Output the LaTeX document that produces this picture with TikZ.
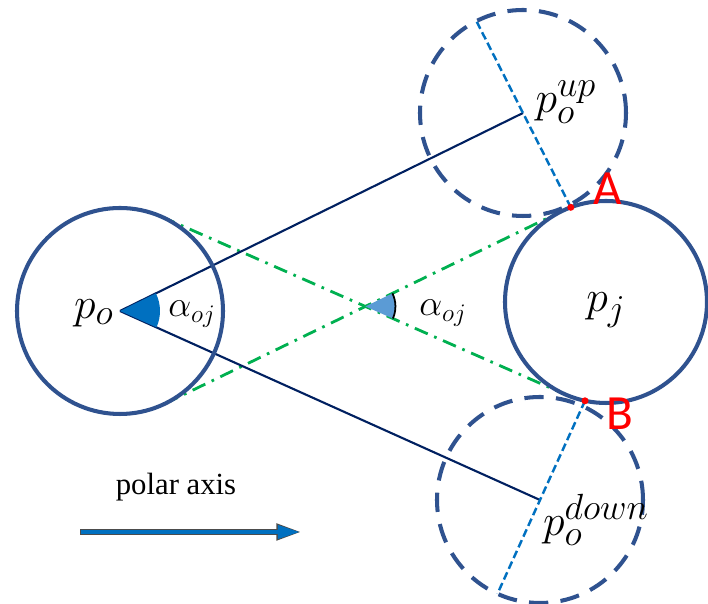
\documentclass[tikz,border=0pt]{standalone}
\usepackage{fontspec}
\newfontfamily\pointfont{Carlito}
\newfontfamily\axisfont{Liberation Serif}
\usetikzlibrary{calc,arrows.meta}
\definecolor{circblue}{RGB}{47,82,143}
\definecolor{navyline}{RGB}{0,32,96}
\definecolor{tangreen}{RGB}{0,176,80}
\definecolor{diamblue}{RGB}{0,112,192}
\definecolor{anglelight}{RGB}{91,155,213}

\begin{document}
\begin{tikzpicture}[x=0.02cm,y=0.02cm,
        body/.style={draw=circblue,line width=2.3pt},
        ghost/.style={draw=circblue,line width=2.3pt,dash pattern=on 11pt off 7pt},
        tangent/.style={draw=tangreen,line width=1.6pt,dash pattern=on 8pt off 4pt on 1.5pt off 4pt},
        diam/.style={draw=diamblue,line width=1.4pt,dash pattern=on 4.5pt off 2.2pt},
        ray/.style={draw=navyline,line width=1.2pt},
        mathlbl/.style={font=\fontsize{28}{30}\selectfont,inner sep=0pt},
        anglbl/.style={font=\fontsize{21}{24}\selectfont,inner sep=0pt},
        pointlbl/.style={font=\pointfont\fontsize{28}{30}\selectfont,text=red,inner sep=0pt},
        ]
        \useasboundingbox (0,0) rectangle (708,604);
        % centres and contact points
        \coordinate (po) at (120,293);
        \coordinate (pj) at (606,302);
        \coordinate (pup) at (523,491);
        \coordinate (pdown) at (540,104);
        \coordinate (A) at ($(pj)+(110.4:101)$);
        \coordinate (B) at ($(pj)+(258:101)$);
        \coordinate (Aend) at ($(pup)!-2.06cm!(A)$);
        \coordinate (Bend) at ($(pdown)!-2.06cm!(B)$);
        \coordinate (C) at ($(po)!0.505!(pj)$);
        \coordinate (T1) at ($(po)+(66.2:103)$);
        \coordinate (T2) at ($(pj)+(246.2:101)$);
        \coordinate (T3) at ($(po)+(-64.1:103)$);
        \coordinate (T4) at ($(pj)+(115.9:101)$);
        % inner tangents
        \path[tangent] (T1) -- (T2);
        \path[tangent] (T3) -- (T4);
        \fill[anglelight] (C) -- ($(C)+(-23.8:30)$) arc[start angle=-23.8,end angle=25.9,radius=30] -- cycle;
        \draw[black,line width=1pt] ($(C)+(-23.8:30)$) arc[start angle=-23.8,end angle=25.9,radius=30];
        % rays to the moved obstacle
        \path[ray] (po) -- (pup);
        \path[ray] (po) -- (pdown);
        \fill[diamblue] (po) -- ($(po)+(-24.2:40)$) arc[start angle=-24.2,end angle=26.2,radius=40] -- cycle;
        \path[diam] (A) -- (Aend);
        \path[diam] (B) -- (Bend);
        % circles
        \path[body] (po) circle (103);
        \path[body] (pj) circle (101);
        \path[ghost] (pup) circle (103);
        \path[ghost] (pdown) circle (103);
        \fill[red] (A) circle (3.5);
        \fill[red] (B) circle (3.5);
        % labels
        \node[mathlbl] (lpo) at (94,291) {$p_o$};
        \node[anglbl] (la1) at (192,290) {$\alpha_{oj}$};
        \node[anglbl] (la2) at (443,291) {$\alpha_{oj}$};
        \node[mathlbl] (lpj) at (606,294) {$p_j$};
        \node[mathlbl] (lup) at (566,502) {$p_o^{up}$};
        \node[mathlbl] (ldown) at (596,84) {$p_o^{down}$};
        \node[pointlbl] (lA) at (608,415) {A};
        \node[pointlbl] (lB) at (620,190) {B};
        \node[font=\axisfont\fontsize{17.5}{20}\selectfont] (lax) at (176,117) {polar axis};
        % polar axis arrow
        \coordinate (ax1) at (80,72);
        \coordinate (ax2) at (301,72);
        \draw[black!70,line width=3pt,-{Triangle[length=14pt,width=9pt]}] (ax1) -- (ax2);
        \draw[diamblue,line width=2.2pt,-{Triangle[length=12.5pt,width=7.4pt]}] ($(ax1)+(0.6,0)$) -- ($(ax2)+(-1.2,0)$);
      \end{tikzpicture}
\end{document}
